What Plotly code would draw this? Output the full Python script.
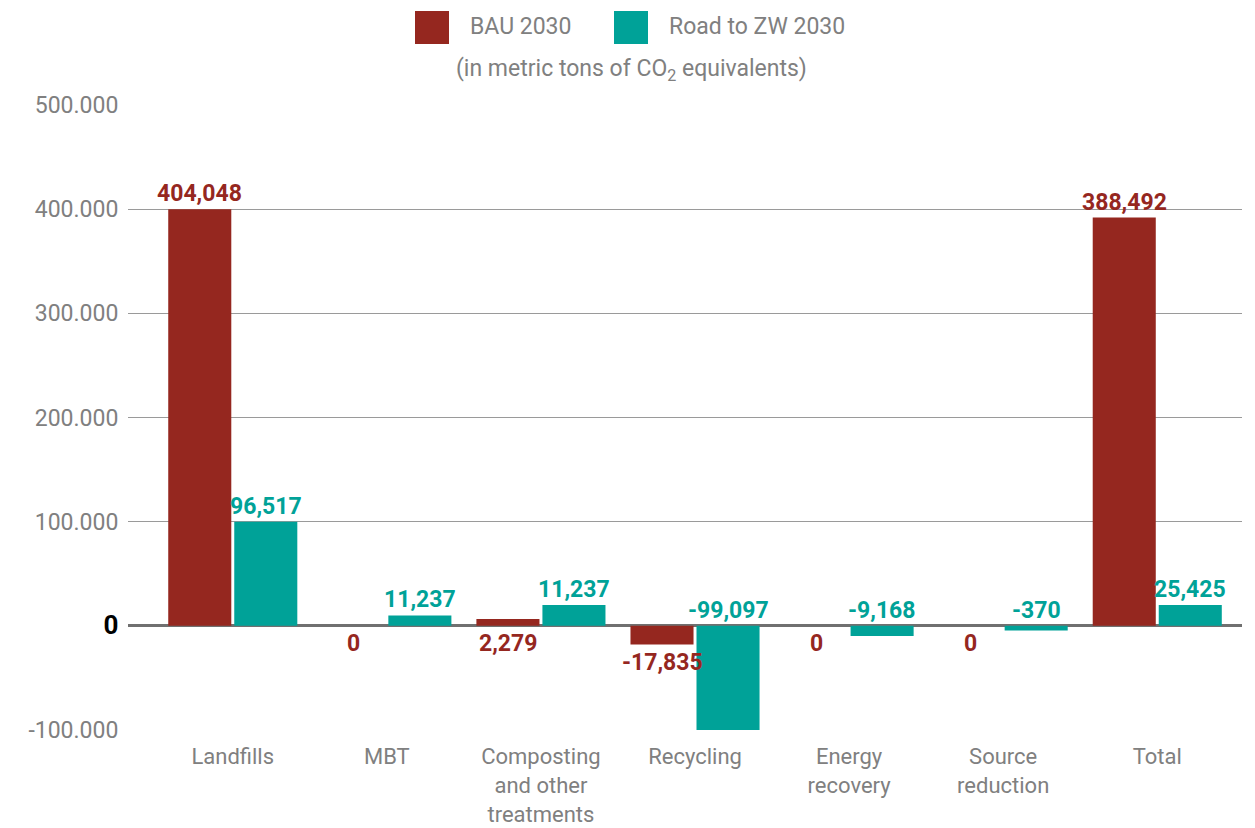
import plotly.graph_objects as go

categories = ["Landfills", "MBT", "Composting<br>and other<br>treatments", "Recycling",
              "Energy<br>recovery", "Source<br>reduction", "Total"]
# bar heights as drawn in the picture
bau_bars = [400000, 0, 6500, -18000, 0, 0, 392000]
zw_bars = [100000, 10000, 20000, -100000, -9800, -4500, 20000]
# printed value labels
bau_labels = ["404,048", "0", "2,279", "-17,835", "0", "0", "388,492"]
zw_labels = ["96,517", "11,237", "11,237", "-99,097", "-9,168", "-370", "25,425"]
# label placement: end_above / end_below / zero_above / zero_below
bau_place = ["end_above", "zero_below", "zero_below", "end_below", "zero_below", "zero_below", "end_above"]
zw_place = ["end_above", "end_above", "end_above", "zero_above", "zero_above", "zero_above", "end_above"]

tick_vals = [-100000, 0, 100000, 200000, 300000, 400000, 500000]
tick_text = ["-100.000", "<b><span style='color:#000000;font-size:26px'>0</span></b>",
             "100.000", "200.000", "300.000", "400.000", "500.000"]

BAU_C = "#95271F"
ZW_C = "#00A298"
GRAY = "#808080"
FONT = "Roboto"

# page body has an 8px margin; figure coordinates are page pixels minus 8
OFF = 8
W, H = 1247, 820
ML, MT = 128 - OFF, 105 - OFF
MR = W - (1242 - OFF)
MB = H - (730 - OFF)


def px_x(x):
    return (x - OFF - ML) / (W - ML - MR)


def px_y(y):
    return 1 - (y - OFF - MT) / (H - MT - MB)


fig = go.Figure()
fig.add_trace(go.Bar(x=categories, y=bau_bars, name="BAU 2030", marker_color=BAU_C,
                     marker_line_width=0, showlegend=False))
fig.add_trace(go.Bar(x=categories, y=zw_bars, name="Road to ZW 2030", marker_color=ZW_C,
                     marker_line_width=0, showlegend=False))

annotations = []
for vals, labs, places, col, shift in [(bau_bars, bau_labels, bau_place, BAU_C, -33),
                                        (zw_bars, zw_labels, zw_place, ZW_C, 33)]:
    for cat, v, lab, p in zip(categories, vals, labs, places):
        yv = v if p.startswith("end") else 0
        above = p.endswith("above")
        annotations.append(dict(
            x=cat, y=yv, xref="x", yref="y", text="<b>" + lab + "</b>", showarrow=False,
            xshift=shift, yshift=0 if above else -2,
            yanchor="bottom" if above else "top",
            font=dict(family=FONT, size=23, color=col)))

annotations.append(dict(x=px_x(468), y=px_y(27), xref="paper", yref="paper",
                        text="BAU 2030", showarrow=False, xanchor="left", yanchor="middle",
                        font=dict(family=FONT, size=23, color=GRAY)))
annotations.append(dict(x=px_x(667), y=px_y(27), xref="paper", yref="paper",
                        text="Road to ZW 2030", showarrow=False, xanchor="left", yanchor="middle",
                        font=dict(family=FONT, size=23, color=GRAY)))
annotations.append(dict(x=px_x(631), y=px_y(70), xref="paper", yref="paper",
                        text="(in metric tons of CO<sub>2</sub> equivalents)", showarrow=False,
                        xanchor="center", yanchor="middle",
                        font=dict(family=FONT, size=23, color=GRAY)))

shapes = [
    dict(type="rect", xref="paper", yref="paper", x0=px_x(415), x1=px_x(449),
         y0=px_y(44), y1=px_y(11), fillcolor=BAU_C, line_width=0),
    dict(type="rect", xref="paper", yref="paper", x0=px_x(614), x1=px_x(648),
         y0=px_y(44), y1=px_y(11), fillcolor=ZW_C, line_width=0),
]

fig.update_layout(
    width=W, height=H,
    margin=dict(l=ML, r=MR, t=MT, b=MB, autoexpand=False),
    paper_bgcolor="white", plot_bgcolor="white",
    font=dict(family=FONT, size=22, color=GRAY),
    bargap=0.143, bargroupgap=0.045, barmode="group",
    showlegend=False,
    annotations=annotations,
    shapes=shapes,
)

fig.update_xaxes(range=[-0.68, 6.55], showgrid=False, showline=False, ticks="outside",
                 ticklen=7, tickcolor="rgba(0,0,0,0)", automargin=False,
                 tickfont=dict(family=FONT, size=22, color=GRAY))
fig.update_yaxes(range=[-100000, 500000], tickvals=tick_vals, ticktext=tick_text,
                 showgrid=True, gridcolor="#9a9a9a", gridwidth=1,
                 zeroline=True, zerolinecolor="#707070", zerolinewidth=2.5,
                 showline=False, ticks="outside", ticklen=4, tickcolor="rgba(0,0,0,0)",
                 automargin=False,
                 tickfont=dict(family=FONT, size=23, color=GRAY))

fig.write_html("out.html")
